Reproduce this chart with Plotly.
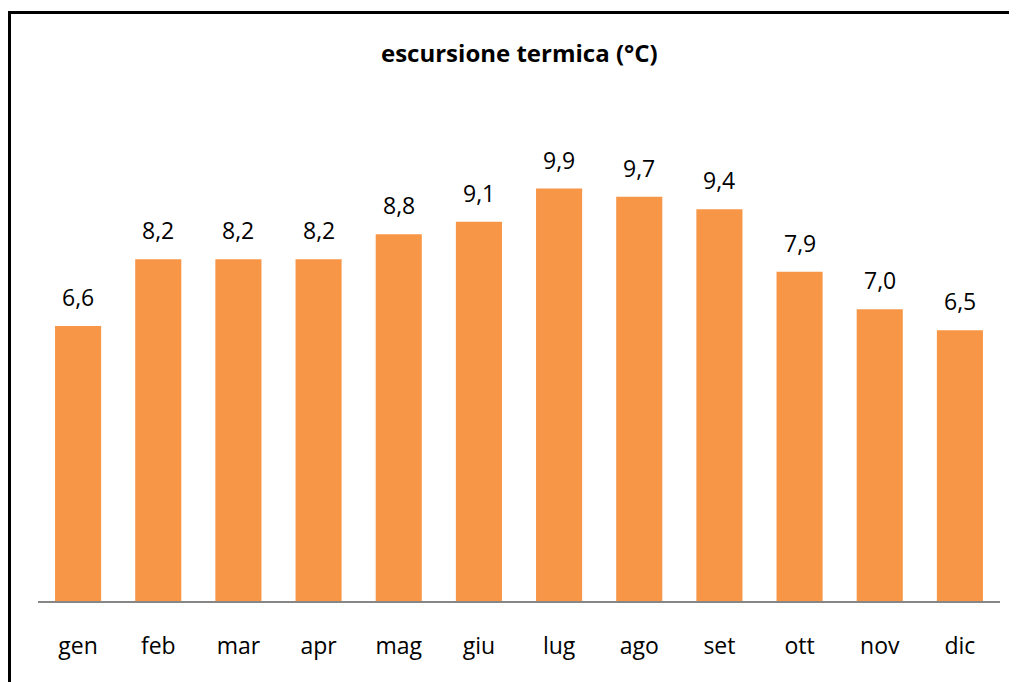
import plotly.graph_objects as go

months = ["gen", "feb", "mar", "apr", "mag", "giu", "lug", "ago", "set", "ott", "nov", "dic"]
values = [6.6, 8.2, 8.2, 8.2, 8.8, 9.1, 9.9, 9.7, 9.4, 7.9, 7.0, 6.5]
title_text = "escursione termica (°C)"

# page body adds an 8px offset; work in screen pixels and subtract it
OFF = 8
W, H = 1017, 682
L = 38 - OFF
R = W - (1000 - OFF)
T = 101 - OFF
B = H - (601 - OFF)
pw, ph = W - L - R, H - T - B

def px_x(px):
    return (px - OFF - L) / pw

def px_y(py):
    return (H - B - (py - OFF)) / ph

fig = go.Figure()
fig.add_trace(go.Bar(
    x=months, y=values,
    marker=dict(color="#F79646", line=dict(width=0)),
    width=0.575,
    hoverinfo="x+y",
))

annotations = []
for m, v in zip(months, values):
    annotations.append(dict(
        x=m, y=v, xref="x", yref="y",
        text=f"{v:.1f}".replace(".", ","),
        showarrow=False, yanchor="bottom", yshift=11,
        font=dict(family="Open Sans", size=23, color="#000000"),
    ))

annotations.append(dict(
    x=px_x(519), y=px_y(53), xref="paper", yref="paper",
    text="<b>" + title_text + "</b>", showarrow=False,
    xanchor="center", yanchor="middle",
    font=dict(family="Open Sans", size=24, color="#000000"),
))

fig.update_layout(
    width=W, height=H,
    margin=dict(l=L, r=R, t=T, b=B),
    paper_bgcolor="white", plot_bgcolor="white",
    separators=",.",
    showlegend=False,
    annotations=annotations,
    shapes=[dict(
        type="rect", xref="paper", yref="paper",
        x0=px_x(9.5), x1=px_x(1100),
        y0=px_y(760), y1=px_y(12.5),
        line=dict(color="black", width=3), fillcolor="rgba(0,0,0,0)",
        layer="above",
    )],
    xaxis=dict(
        showline=True, linecolor="#868686", linewidth=2,
        ticks="", showgrid=False, zeroline=False,
        tickfont=dict(family="Open Sans", size=23, color="#000000"),
        ticklabelstandoff=23,
    ),
    yaxis=dict(visible=False, range=[0, 12], fixedrange=True),
)

fig.write_html("out.html", post_script="document.documentElement.style.overflow='hidden';")
